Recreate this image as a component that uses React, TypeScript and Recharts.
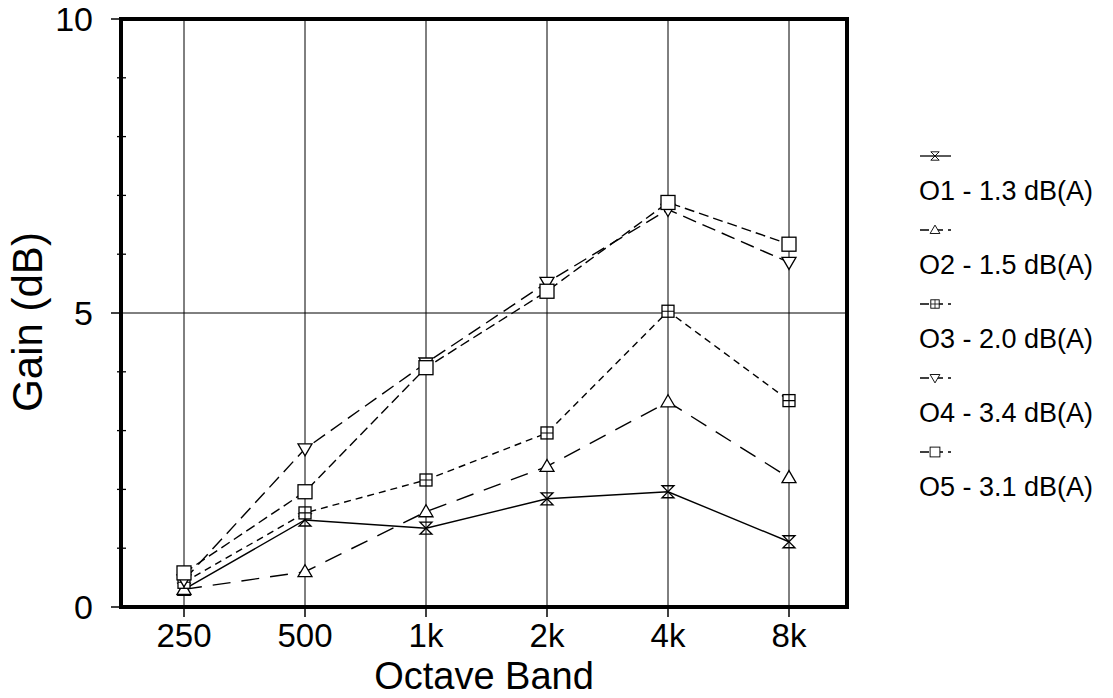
import React from "react";
import {
  LineChart, Line, XAxis, YAxis, CartesianGrid, ReferenceLine,
} from "recharts";

const bands = ["250", "500", "1k", "2k", "4k", "8k"];
const o1 = [0.3, 1.48, 1.34, 1.84, 1.96, 1.11];
const o2 = [0.3, 0.6, 1.62, 2.39, 3.49, 2.2];
const o3 = [0.42, 1.6, 2.16, 2.96, 5.03, 3.51];
const o4 = [0.46, 2.69, 4.15, 5.52, 6.76, 5.86];
const o5 = [0.58, 1.96, 4.07, 5.37, 6.88, 6.17];
const yTicks = [0, 1, 2, 3, 4, 5, 6, 7, 8, 9, 10];
const yLabels = [0, 5, 10];

const series = [
  { key: "o1", name: "O1 - 1.3 dB(A)", values: o1, dash: undefined, marker: "hourglass" },
  { key: "o2", name: "O2 - 1.5 dB(A)", values: o2, dash: "18 11", marker: "triUp" },
  { key: "o3", name: "O3 - 2.0 dB(A)", values: o3, dash: "7 5", marker: "squareCross" },
  { key: "o4", name: "O4 - 3.4 dB(A)", values: o4, dash: "14 7", marker: "triDown" },
  { key: "o5", name: "O5 - 3.1 dB(A)", values: o5, dash: "10 5", marker: "square" },
];

const data = bands.map((band, i) => {
  const row: Record<string, string | number> = { band };
  series.forEach((s) => { row[s.key] = s.values[i]; });
  return row;
});

const FONT = '"Liberation Sans", Arial, sans-serif';
// plot box, shared by the chart margins and the frame drawn over it
const PLOT = { left: 121, top: 19, right: 847, bottom: 607 };
const W = 1113;
const H = 698;

function Marker({ kind, cx, cy }: { kind: string; cx: number; cy: number }) {
  const common = { stroke: "#000", strokeWidth: 1.3, fill: "#fff" };
  if (kind === "hourglass") {
    return (
      <path
        d={`M${cx - 6},${cy - 6}H${cx + 6}L${cx - 6},${cy + 6}H${cx + 6}Z`}
        {...common}
        fill="none"
      />
    );
  }
  if (kind === "triUp") {
    return <polygon points={`${cx},${cy - 7} ${cx + 7},${cy + 5} ${cx - 7},${cy + 5}`} {...common} />;
  }
  if (kind === "triDown") {
    return <polygon points={`${cx},${cy + 7} ${cx + 7},${cy - 5} ${cx - 7},${cy - 5}`} {...common} />;
  }
  if (kind === "squareCross") {
    return (
      <g>
        <rect x={cx - 6} y={cy - 6} width={12} height={12} {...common} />
        <path d={`M${cx - 6},${cy}H${cx + 6}M${cx},${cy - 6}V${cy + 6}`} stroke="#000" strokeWidth={1.1} />
      </g>
    );
  }
  return <rect x={cx - 7} y={cy - 7} width={14} height={14} {...common} />;
}

function XTick(props: any) {
  const { x, y, payload } = props;
  return (
    <g>
      <line x1={x} x2={x} y1={y} y2={y + 10} stroke="#000" strokeWidth={1.5} />
      <text x={x} y={y + 40} textAnchor="middle" fontSize={33} fontFamily={FONT} fill="#000">
        {payload.value}
      </text>
    </g>
  );
}

function YTick(props: any) {
  const { x, y, payload } = props;
  const major = yLabels.includes(payload.value);
  return (
    <g>
      {major ? (
        <line x1={x - 10} x2={x} y1={y} y2={y} stroke="#000" strokeWidth={1.5} />
      ) : (
        <line x1={x - 4} x2={x + 5} y1={y} y2={y} stroke="#000" strokeWidth={1.3} />
      )}
      {major && (
        <text x={x - 28} y={y} dy="0.36em" textAnchor="end" fontSize={34} fontFamily={FONT} fill="#000">
          {payload.value}
        </text>
      )}
    </g>
  );
}

function XTitle(props: any) {
  const { x, y, width } = props.viewBox;
  return (
    <text x={x + width / 2} y={y + 82} textAnchor="middle" fontSize={38} fontFamily={FONT} fill="#000">
      Octave Band
    </text>
  );
}

function YTitle(props: any) {
  const { x, y, height } = props.viewBox;
  const cx = x + 27;
  const cy = y + height / 2 + 9;
  return (
    <text
      x={cx}
      y={cy}
      dy="0.36em"
      textAnchor="middle"
      fontSize={42}
      fontFamily={FONT}
      fill="#000"
      transform={`rotate(-90 ${cx} ${cy})`}
    >
      Gain (dB)
    </text>
  );
}

function LegendSample({ dash, marker }: { dash?: string; marker: string }) {
  return (
    <svg width={34} height={20} style={{ display: "block" }}>
      <line x1={1} x2={32} y1={10} y2={10} stroke="#000" strokeWidth={1.3} strokeDasharray={dash ? "9 5" : undefined} />
      <g transform="translate(16 10) scale(0.7) translate(-16 -10)">
        <Marker kind={marker} cx={16} cy={10} />
      </g>
    </svg>
  );
}

export default function App() {
  return (
    <div
      style={{
        position: "fixed", left: 0, top: 0, width: W, height: H,
        background: "#fff", fontFamily: FONT,
      }}
    >
      <LineChart
        width={W}
        height={H}
        data={data}
        margin={{ top: PLOT.top, right: W - PLOT.right, bottom: 0, left: 0 }}
      >
        <CartesianGrid vertical horizontal={false} stroke="#000" strokeWidth={1} />
        <XAxis
          dataKey="band"
          type="category"
          padding={{ left: 63, right: 58 }}
          axisLine={{ stroke: "#000", strokeWidth: 4 }}
          tickLine={false}
          tickSize={0}
          tickMargin={0}
          interval={0}
          tick={<XTick />}
          height={H - PLOT.bottom}
          label={XTitle}
        />
        <YAxis
          domain={[0, 10]}
          ticks={yTicks}
          interval={0}
          width={PLOT.left}
          axisLine={{ stroke: "#000", strokeWidth: 4 }}
          tickLine={false}
          tickSize={0}
          tickMargin={0}
          tick={<YTick />}
          label={YTitle}
        />
        <ReferenceLine y={5} stroke="#000" strokeWidth={1} />
        {series.map((s) => (
          <Line
            key={s.key}
            dataKey={s.key}
            name={s.name}
            stroke="#000"
            strokeWidth={1.4}
            strokeDasharray={s.dash}
            isAnimationActive={false}
            dot={(p: any) => <Marker key={`${s.key}-${p.index}`} kind={s.marker} cx={p.cx} cy={p.cy} />}
            activeDot={false}
          />
        ))}
      </LineChart>
      {/* heavy frame round the plot */}
      <div
        style={{
          position: "absolute",
          left: PLOT.left - 2,
          top: PLOT.top - 2,
          width: PLOT.right - PLOT.left + 4,
          height: PLOT.bottom - PLOT.top + 4,
          border: "4px solid #000",
          boxSizing: "border-box",
          pointerEvents: "none",
        }}
      />
      <div style={{ position: "absolute", left: 919, top: 146 }}>
        {series.map((s) => (
          <div key={s.key} style={{ height: 74 }}>
            <LegendSample dash={s.dash} marker={s.marker} />
            <div style={{ marginTop: 10, lineHeight: "30px", fontSize: 27, color: "#000", whiteSpace: "nowrap" }}>
              {s.name}
            </div>
          </div>
        ))}
      </div>
    </div>
  );
}
